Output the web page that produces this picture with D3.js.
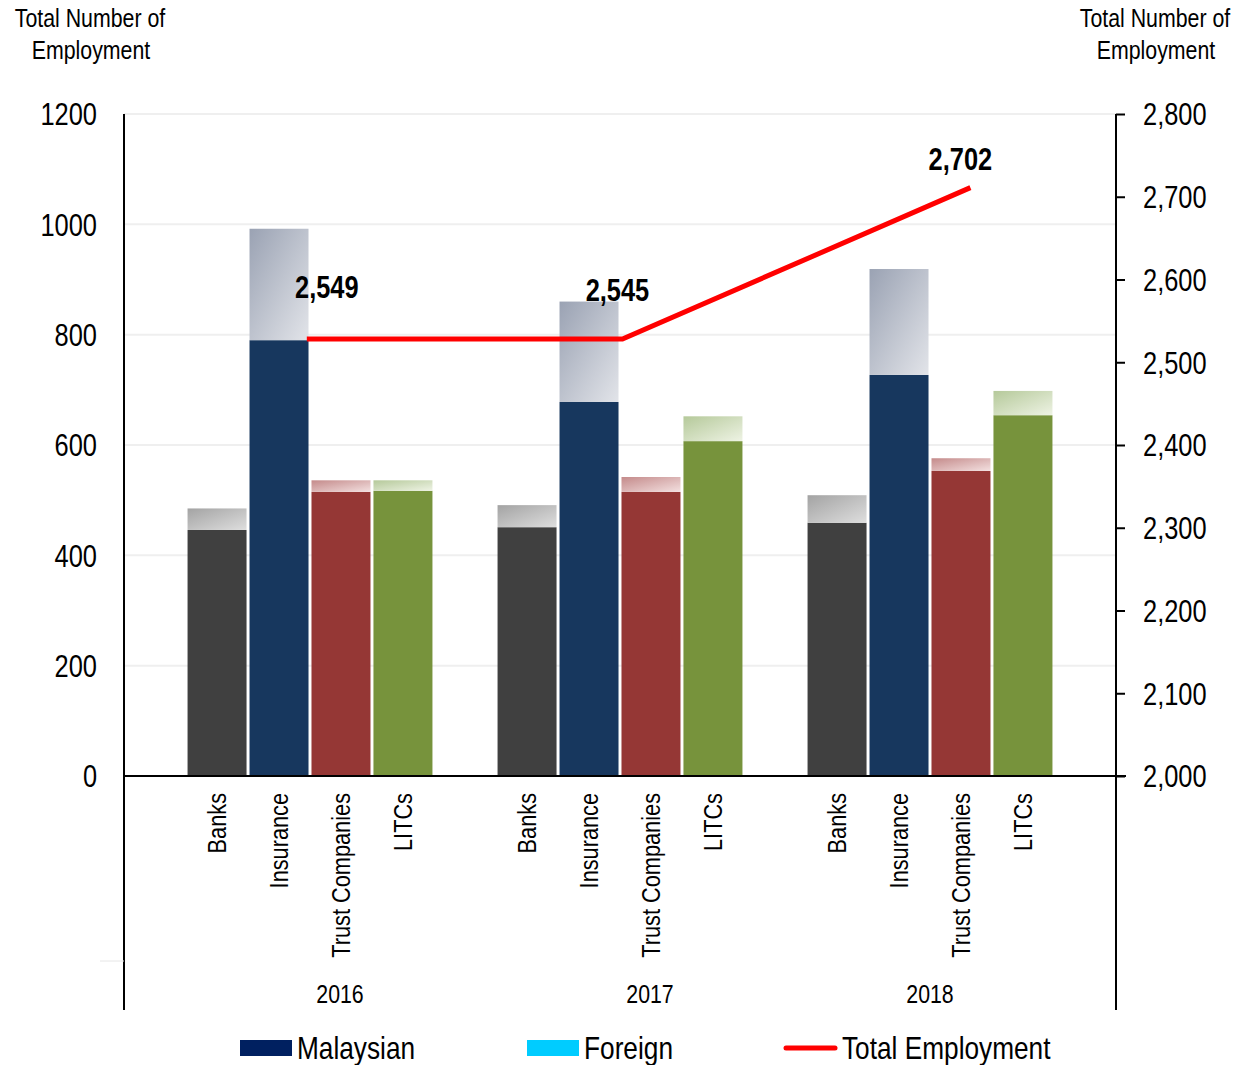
<!DOCTYPE html>
<html>
<head>
<meta charset="utf-8">
<script src="https://cdn.jsdelivr.net/npm/d3@7"></script>
<style>
  html, body { margin: 0; padding: 0; background: #fff; }
  svg { display: block; }
  text { font-family: "Liberation Sans Narrow", "Arial Narrow", "Liberation Sans", Arial, sans-serif; fill: #000; }
</style>
</head>
<body>
<svg id="chart" width="1242" height="1065"></svg>
<script>
// ---------------- DATA ----------------
const years = ["2016", "2017", "2018"];
const sectors = ["Banks", "Insurance", "Trust Companies", "LITCs"];

const malaysian2016 = [446, 790, 515, 517];
const malaysian2017 = [451, 678, 515, 607];
const malaysian2018 = [459, 727, 553, 654];

const foreign2016 = [39, 202, 21, 19];
const foreign2017 = [40, 182, 27, 45];
const foreign2018 = [50, 192, 23, 44];

// Total employment labels (as printed) and the line as drawn in the picture
const totalEmployment = [2549, 2545, 2702];
const totalLineDrawn = [2528, 2528, 2711];

const leftTicks = [0, 200, 400, 600, 800, 1000, 1200];
const rightTicks = [2000, 2100, 2200, 2300, 2400, 2500, 2600, 2700, 2800];

const legendLabels = ["Malaysian", "Foreign", "Total Employment"];

// ---------------- LAYOUT / STYLE ----------------
const malaysianByYear = [malaysian2016, malaysian2017, malaysian2018];
const foreignByYear = [foreign2016, foreign2017, foreign2018];

const solidColors = ["#404040", "#17375e", "#953735", "#77933c"];
const gradStops = [
  ["#a3a3a3", "#dedede"],
  ["#9aa2b3", "#e2e4e9"],
  ["#c48a8a", "#f3e0e0"],
  ["#b5c99a", "#eef3e4"]
];
const lineXFrac = [0.487, 0.51, 0.665];   // where the drawn line points sit inside each year group
const labelDx = [20, -5, -10];
const labelDy = [-52, -49, -28];
const yearLabelShift = [30, 30, 0];
const condense = 0.82;

const plotLeft = 124, plotRight = 1116, plotTop = 114, plotBottom = 776, axisBottom = 1010;

const svg = d3.select("#chart");
const defs = svg.append("defs");
gradStops.forEach((s, i) => {
  const g = defs.append("linearGradient").attr("id", "fg" + i)
    .attr("x1", "0").attr("y1", "0").attr("x2", "1").attr("y2", "1");
  g.append("stop").attr("offset", "0%").attr("stop-color", s[0]);
  g.append("stop").attr("offset", "100%").attr("stop-color", s[1]);
});

const x0 = d3.scaleBand().domain(years).range([155, 1085]).paddingInner(0.21).paddingOuter(0.105);
const x1 = d3.scaleBand().domain(sectors).range([0, x0.bandwidth()]).paddingInner(0.048).paddingOuter(0);
const yL = d3.scaleLinear().domain([0, 1200]).range([plotBottom, plotTop]);
const yR = d3.scaleLinear().domain([2000, 2800]).range([plotBottom, plotTop]);

// gridlines
svg.append("g").selectAll("line").data(leftTicks.filter(d => d > 0)).join("line")
  .attr("x1", plotLeft).attr("x2", plotRight)
  .attr("y1", d => yL(d)).attr("y2", d => yL(d))
  .attr("stroke", "#efefef").attr("stroke-width", 2);

// bars
const rows = [];
years.forEach((yr, yi) => sectors.forEach((s, si) => {
  rows.push({ year: yr, sector: s, si, m: malaysianByYear[yi][si], f: foreignByYear[yi][si] });
}));
const barG = svg.append("g");
barG.selectAll("rect.m").data(rows).join("rect").attr("class", "m")
  .attr("x", d => x0(d.year) + x1(d.sector))
  .attr("width", x1.bandwidth())
  .attr("y", d => yL(d.m))
  .attr("height", d => yL(0) - yL(d.m))
  .attr("fill", d => solidColors[d.si]);
barG.selectAll("rect.f").data(rows).join("rect").attr("class", "f")
  .attr("x", d => x0(d.year) + x1(d.sector))
  .attr("width", x1.bandwidth())
  .attr("y", d => yL(d.m + d.f))
  .attr("height", d => yL(d.m) - yL(d.m + d.f))
  .attr("fill", d => "url(#fg" + d.si + ")");

// left axis
const leftAxis = d3.axisLeft(yL).tickValues(leftTicks).tickSize(0).tickPadding(27).tickFormat(d3.format("d"));
const gL = svg.append("g").attr("transform", `translate(${plotLeft},0)`).call(leftAxis);
gL.select(".domain").remove();
gL.selectAll("text").style("font-size", "31px").attr("dy", "0.35em");
svg.append("line").attr("x1", plotLeft).attr("x2", plotLeft).attr("y1", plotTop).attr("y2", axisBottom)
  .attr("stroke", "#000").attr("stroke-width", 2);

// right axis
const rightAxis = d3.axisRight(yR).tickValues(rightTicks).tickSize(9).tickPadding(18).tickFormat(d3.format(","));
const gR = svg.append("g").attr("transform", `translate(${plotRight},0)`).call(rightAxis);
gR.select(".domain").remove();
gR.selectAll("line").attr("stroke", "#000").attr("stroke-width", 2);
gR.selectAll("text").style("font-size", "31px").attr("dy", "0.35em");
svg.append("line").attr("x1", plotRight).attr("x2", plotRight).attr("y1", plotTop).attr("y2", axisBottom)
  .attr("stroke", "#000").attr("stroke-width", 2);

// baseline
svg.append("line").attr("x1", plotLeft).attr("x2", plotRight + 10).attr("y1", yL(0)).attr("y2", yL(0))
  .attr("stroke", "#000").attr("stroke-width", 2);

// faint separator of the multi-level category axis
svg.append("line").attr("x1", 100).attr("x2", plotLeft).attr("y1", 961).attr("y2", 961)
  .attr("stroke", "#e6e6e6").attr("stroke-width", 1);

// category labels
svg.append("g").selectAll("text").data(rows).join("text")
  .attr("transform", d => `translate(${x0(d.year) + x1(d.sector) + x1.bandwidth() / 2},793) rotate(-90)`)
  .attr("text-anchor", "end").attr("dy", "0.35em")
  .style("font-size", "26.5px")
  .text(d => d.sector);

// year labels
svg.append("g").selectAll("text").data(years).join("text")
  .attr("x", (d, i) => x0(d) + x0.bandwidth() / 2 + yearLabelShift[i])
  .attr("y", 994).attr("dy", "0.35em").attr("text-anchor", "middle")
  .style("font-size", "26px")
  .text(d => d);

// total employment line
const linePts = years.map((yr, i) => [x0(yr) + x0.bandwidth() * lineXFrac[i], yR(totalLineDrawn[i])]);
svg.append("path").attr("d", d3.line()(linePts))
  .attr("fill", "none").attr("stroke", "#ff0000").attr("stroke-width", 5);

svg.append("g").selectAll("text").data(totalEmployment).join("text")
  .attr("x", (d, i) => linePts[i][0] + labelDx[i])
  .attr("y", (d, i) => linePts[i][1] + labelDy[i])
  .attr("dy", "0.35em").attr("text-anchor", "middle")
  .style("font-size", "31px").style("font-weight", "bold")
  .text(d => d3.format(",")(d));

// axis titles
[[90, "Total Number of", 18], [91, "Employment", 50], [1155, "Total Number of", 18], [1156, "Employment", 50]]
  .forEach(([x, t, y]) => {
    svg.append("text").attr("x", x).attr("y", y).attr("dy", "0.35em").attr("text-anchor", "middle")
      .style("font-size", "26px").text(t);
  });

// legend
const lg = svg.append("g");
lg.append("rect").attr("x", 240).attr("y", 1040).attr("width", 52).attr("height", 16).attr("fill", "#002060");
lg.append("text").attr("x", 297).attr("y", 1048).attr("dy", "0.35em").style("font-size", "32px").text(legendLabels[0]);
lg.append("rect").attr("x", 527).attr("y", 1040).attr("width", 52).attr("height", 16).attr("fill", "#00ccff");
lg.append("text").attr("x", 584).attr("y", 1048).attr("dy", "0.35em").style("font-size", "32px").text(legendLabels[1]);
lg.append("line").attr("x1", 786).attr("x2", 835).attr("y1", 1048).attr("y2", 1048)
  .attr("stroke", "#ff0000").attr("stroke-width", 5).attr("stroke-linecap", "round");
lg.append("text").attr("x", 842).attr("y", 1048).attr("dy", "0.35em").style("font-size", "32px").text(legendLabels[2]);

// condense every text to mimic a narrow face (no narrow font installed)
svg.selectAll("text").each(function () {
  const len = this.getComputedTextLength();
  this.setAttribute("textLength", (len * condense).toFixed(1));
  this.setAttribute("lengthAdjust", "spacingAndGlyphs");
});
</script>
</body>
</html>
